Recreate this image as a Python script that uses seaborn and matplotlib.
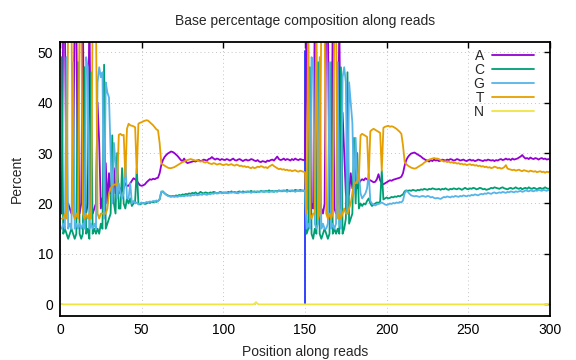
import numpy as np
import pandas as pd
import matplotlib
matplotlib.use("Agg")
from matplotlib import pyplot as plt
import seaborn as sns

# base composition (%) per position, read 1 = pos 1-150, read 2 = pos 151-300
A_read1 = [18, 58, 56, 19, 20, 19, 18, 20, 59, 57,
           19, 18, 20, 58, 19, 18, 20, 60, 19, 18,
           19, 20, 40, 32, 19, 21, 22, 28, 20, 26,
           22, 23, 27, 22, 23, 22, 23, 22.5, 23, 24,
           23.5, 23.5, 24, 24.5, 25, 24.8, 24.5, 24, 23.6, 23.5,
           23.6, 23.8, 24.2, 24.5, 24.8, 24.7, 24.9, 24.8, 25, 25.1,
           26, 27.6, 28.6, 29.2, 29.6, 29.9, 30.1, 30.3, 30.2, 30.0,
           29.7, 29.4, 29.0, 28.6, 28.4, 28.9, 28.3, 28.0, 28.1, 28.2,
           28.3, 28.4, 28.3, 28.5, 28.6, 28.4, 28.5, 28.7, 28.6, 28.5,
           28.8, 28.9, 29.2, 28.9, 28.7, 28.9, 28.8, 28.6, 28.8, 28.7,
           28.6, 28.8, 28.7, 28.5, 28.7, 28.9, 28.6, 28.5, 28.7, 28.8,
           28.6, 28.4, 28.6, 28.7, 28.5, 28.6, 28.8, 28.7, 28.5, 28.4,
           28.6, 28.3, 28.2, 28.4, 28.3, 28.2, 28.5, 28.4, 28.6, 28.7,
           28.5, 28.9, 29.3, 28.8, 28.6, 28.7, 28.9, 28.6, 28.8, 28.7,
           28.5, 28.8, 28.6, 28.9, 28.7, 28.6, 28.8, 28.7, 28.6, 28.7]
A_read2 = [60, 19, 18, 20, 19, 58, 19, 18, 20, 19,
           18, 20, 59, 57, 19, 18, 58, 19, 18, 20,
           57, 19, 38, 30, 22, 21, 22, 26, 23, 24,
           25, 23, 24, 24.5, 24.8, 24.6, 25, 24.8, 24.5, 24.6,
           24.4, 24.2, 24.3, 24.8, 25.8, 24.6, 24.0, 23.8, 24.0, 24.2,
           24.4, 24.6, 24.5, 24.7, 24.8, 24.9, 25.0, 25.1, 25.3, 26.0,
           27.5, 28.6, 29.2, 29.6, 29.9, 30.0, 30.1, 29.9, 29.7, 29.5,
           29.3, 29.0, 28.8, 28.6, 28.5, 28.3, 28.6, 28.4, 28.7, 28.5,
           28.6, 28.4, 28.5, 28.7, 28.6, 28.5, 28.7, 28.6, 28.8, 28.7,
           28.5, 28.6, 28.8, 28.7, 28.5, 28.6, 28.7, 28.5, 28.4, 28.6,
           28.7, 28.5, 28.6, 28.4, 28.5, 28.7, 28.6, 28.5, 28.4, 28.6,
           28.5, 28.7, 28.6, 28.5, 28.6, 28.4, 28.6, 28.5, 28.7, 28.8,
           28.6, 28.7, 28.9, 28.7, 28.8, 28.6, 28.9, 28.7, 28.8, 28.9,
           29.1, 29.3, 29.6, 29.2, 28.9, 29.0, 28.8, 29.1, 28.9, 28.8,
           29.0, 28.9, 28.7, 28.9, 29.0, 28.8, 28.9, 28.7, 28.8, 28.7]

C_read1 = [49, 14, 15, 14, 13, 14, 15, 14, 13, 14,
           48, 14, 13, 14, 47, 14, 15, 13, 46, 14,
           15, 14, 15, 14, 16, 15, 47.5, 15, 16, 17,
           18, 33.5, 20, 18, 30, 19, 19, 27, 20, 19,
           21, 20, 21, 19.5, 20, 20.5, 27, 20, 19.8, 20,
           20.1, 19.9, 20, 20.2, 20.1, 20.3, 20.2, 20.4, 20.3, 20.5,
           20.8, 22.2, 22.4, 22.0, 21.8, 21.6, 21.5, 21.4, 21.5, 21.4,
           21.6, 21.5, 21.7, 21.6, 21.8, 21.7, 21.9, 21.8, 22.0, 21.9,
           22.1, 22.0, 22.2, 21.9, 22.0, 22.3, 22.1, 22.0, 22.2, 22.1,
           22.0, 22.2, 22.1, 22.3, 22.2, 22.0, 22.1, 22.3, 22.2, 22.1,
           22.2, 22.1, 22.3, 22.2, 22.4, 22.2, 22.3, 22.1, 22.3, 22.4,
           22.2, 22.4, 22.3, 22.2, 22.4, 22.3, 22.5, 22.3, 22.4, 22.2,
           22.4, 22.3, 22.5, 22.4, 22.3, 22.5, 22.4, 22.6, 22.4, 22.5,
           22.3, 22.5, 22.4, 22.6, 22.5, 22.4, 22.6, 22.5, 22.7, 22.5,
           22.4, 22.6, 22.5, 22.7, 22.6, 22.5, 22.7, 22.6, 22.5, 22.6]
C_read2 = [14, 15, 47, 14, 13, 15, 14, 48, 14, 13,
           14, 15, 14, 13, 14, 48, 14, 15, 14, 15,
           14, 47, 14, 15, 17, 46, 16, 17, 18, 33,
           20, 30, 19, 20, 19.5, 20, 19.8, 20.5, 21, 20,
           19.5, 19.8, 20.0, 20.2, 20.1, 20.4, 26.5, 20.8, 21.0, 21.2,
           21.0, 21.1, 21.3, 21.2, 21.4, 21.3, 21.5, 21.4, 21.6, 21.8,
           22.4, 22.6, 22.5, 22.6, 22.5, 22.7, 22.6, 22.5, 22.7, 22.6,
           22.8, 22.7, 22.9, 22.8, 22.7, 22.9, 22.8, 23.0, 22.9, 22.8,
           22.8, 22.9, 22.7, 22.9, 22.8, 23.0, 22.8, 22.7, 22.9, 22.8,
           23.0, 22.9, 22.8, 23.0, 22.9, 22.7, 22.9, 23.1, 22.9, 22.8,
           23.0, 22.9, 23.1, 23.0, 22.8, 22.9, 23.1, 23.0, 22.8, 22.9,
           22.7, 22.8, 22.9, 23.1, 23.0, 23.2, 23.1, 23.0, 22.9, 23.1,
           23.2, 23.0, 22.9, 22.8, 23.0, 23.1, 22.9, 23.0, 23.2, 23.0,
           22.9, 23.1, 22.8, 23.0, 23.1, 22.9, 23.2, 23.0, 22.9, 23.1,
           23.0, 22.8, 23.0, 23.1, 22.9, 23.0, 23.2, 23.0, 22.9, 23.0]

G_read1 = [15, 16, 15, 49, 15, 16, 15, 48, 15, 16,
           15, 16, 15, 16, 15, 49, 47, 15, 16, 15,
           16, 15, 44, 47, 45, 46, 17, 44, 42, 41,
           30, 20, 32, 28, 21, 24, 22, 21, 22, 29,
           21, 21, 24, 20, 20.5, 20, 20.2, 19.8, 20, 20.2,
           20, 20.1, 20.3, 20.2, 20.4, 20.3, 20.5, 20.4, 20.6, 20.4,
           20.9, 22.4, 22.3, 22.1, 21.7, 21.5, 21.4, 21.3, 21.4, 21.3,
           21.4, 21.3, 21.5, 21.4, 21.5, 21.4, 21.6, 21.5, 21.6, 21.5,
           21.7, 21.6, 21.8, 21.6, 21.7, 21.8, 21.7, 21.9, 21.8, 21.7,
           21.9, 21.8, 22.0, 21.9, 22.1, 22.0, 22.0, 22.2, 22.0, 22.1,
           22.1, 22.2, 22.0, 22.2, 22.1, 22.3, 22.1, 22.2, 22.0, 22.2,
           22.3, 22.1, 22.2, 22.4, 22.2, 22.3, 22.1, 22.3, 22.2, 22.4,
           22.3, 22.2, 22.4, 22.3, 22.5, 22.3, 22.4, 22.2, 22.4, 22.3,
           22.5, 22.4, 22.3, 22.5, 22.4, 22.6, 22.4, 22.5, 22.3, 22.5,
           22.6, 22.4, 22.5, 22.3, 22.5, 22.6, 22.4, 22.5, 22.6, 22.5]
G_read2 = [15, 16, 15, 49, 48, 16, 15, 16, 49, 15,
           16, 15, 15, 16, 48, 15, 16, 15, 16, 48,
           16, 15, 45, 47, 44, 18, 44, 40, 36, 22,
           33, 24, 26, 22, 21, 21.5, 22, 23, 26, 20.5,
           20, 19.8, 19.6, 19.8, 19.9, 20.0, 20.2, 20.0, 19.8, 19.7,
           19.8, 20.0, 19.9, 20.1, 20.0, 20.2, 20.1, 20.3, 20.2, 20.6,
           22.0, 22.5, 22.3, 21.9, 21.6, 21.5, 21.4, 21.5, 21.4, 21.3,
           21.4, 21.5, 21.4, 21.3, 21.5, 21.4, 21.2, 21.3, 21.1, 21.0,
           21.1, 21.0, 20.9, 21.1, 21.3, 21.2, 21.4, 21.3, 21.2, 21.4,
           21.3, 21.5, 21.4, 21.3, 21.5, 21.4, 21.6, 21.5, 21.4, 21.6,
           21.5, 21.7, 21.6, 21.8, 21.7, 21.6, 21.8, 21.9, 21.8, 22.0,
           21.9, 22.1, 22.0, 21.9, 22.1, 22.2, 22.0, 22.1, 22.2, 22.1,
           22.3, 22.2, 22.1, 22.3, 22.2, 22.4, 22.3, 22.2, 22.4, 22.3,
           22.4, 22.5, 22.3, 22.4, 22.6, 22.5, 22.4, 22.6, 22.5, 22.4,
           22.6, 22.5, 22.7, 22.6, 22.5, 22.7, 22.6, 22.5, 22.7, 22.6]

T_read1 = [17, 17, 18, 17, 57, 60, 58, 18, 17, 18,
           17, 58, 59, 18, 17, 18, 17, 18, 17, 59,
           57, 58, 18, 17, 18, 18, 18, 18, 19, 22,
           23, 23.5, 23.7, 23.8, 23.5, 33.6, 33.8, 33.5, 33.6, 25.3,
           34.8, 35.8, 35.5, 35.4, 35.3, 35.1, 26, 35.8, 36, 36.1,
           36.3, 36.4, 36.5, 36.4, 36.1, 35.8, 35.5, 35.1, 34.7, 34.5,
           32, 28, 27.7, 27.5, 27.3, 27.1, 27.0, 27.0, 27.1, 27.2,
           27.4, 27.6, 27.8, 28.0, 28.2, 28.3, 28.5, 28.6, 28.7, 28.8,
           28.7, 28.6, 28.5, 28.6, 28.4, 28.3, 28.4, 28.2, 28.1, 28.3,
           28.0, 27.9, 27.8, 28.0, 27.9, 27.7, 27.8, 27.9, 27.7, 27.6,
           27.7, 27.8, 27.6, 27.7, 27.8, 27.6, 27.5, 27.7, 27.6, 27.4,
           27.5, 27.3, 27.4, 27.2, 27.3, 27.1, 27.0, 27.2, 27.0, 27.1,
           27.3, 27.2, 27.4, 27.3, 27.1, 27.2, 27.0, 27.3, 27.5, 27.7,
           27.4, 27.2, 27.0, 26.8, 26.9, 26.7, 26.8, 26.6, 26.7, 26.5,
           26.6, 26.4, 26.5, 26.6, 26.4, 26.3, 26.5, 26.4, 26.3, 26.2]
T_read2 = [18, 58, 18, 17, 18, 18, 57, 17, 18, 58,
           59, 57, 18, 17, 18, 17, 18, 58, 59, 17,
           18, 17, 18, 19, 18, 18, 19, 20, 22, 24,
           24, 24.5, 25, 33.5, 33.8, 33.6, 33.4, 33.2, 25, 34.3,
           34.6, 34.8, 34.6, 34.4, 34.2, 34.0, 26.5, 35.0, 35.2, 35.3,
           35.4, 35.2, 35.3, 35.2, 35.0, 34.8, 34.5, 34.2, 33.8, 31.5,
           28.3, 27.8, 27.5, 27.3, 27.1, 27.0, 26.9, 27.0, 27.2, 27.4,
           27.6, 27.8, 28.1, 28.3, 28.5, 28.7, 28.8, 28.9, 29.0, 28.9,
           28.9, 28.8, 28.6, 28.5, 28.3, 28.4, 28.2, 28.3, 28.1, 28.2,
           28.0, 28.1, 27.9, 28.0, 27.8, 27.9, 27.7, 27.8, 27.6, 27.7,
           27.8, 27.6, 27.7, 27.5, 27.6, 27.4, 27.5, 27.3, 27.4, 27.2,
           27.3, 27.1, 27.2, 27.0, 27.1, 27.3, 27.2, 27.0, 27.1, 26.9,
           27.0, 27.2, 27.6, 26.9, 26.8, 26.7, 26.6, 26.7, 26.5, 26.6,
           26.7, 26.5, 26.4, 26.6, 26.5, 26.4, 26.3, 26.5, 26.4, 26.3,
           26.4, 26.2, 26.3, 26.4, 26.2, 26.3, 26.1, 26.3, 26.2, 26.3]

N_read1 = [0.1, 0, 0, 0, 0, 0, 0, 0, 0, 0, 0, 0, 0, 0, 0, 0, 0, 0, 0, 0, 0, 0, 0, 0, 0,
           0, 0, 0, 0, 0, 0, 0, 0, 0, 0, 0, 0, 0, 0, 0, 0, 0, 0, 0, 0, 0, 0, 0, 0, 0,
           0, 0, 0, 0, 0, 0, 0, 0, 0, 0, 0, 0, 0, 0, 0, 0, 0, 0, 0, 0, 0, 0, 0, 0, 0,
           0, 0, 0, 0, 0, 0, 0, 0, 0, 0, 0, 0, 0, 0, 0, 0, 0, 0, 0, 0, 0, 0, 0, 0, 0,
           0, 0, 0, 0, 0, 0, 0, 0, 0, 0, 0, 0, 0, 0, 0, 0, 0, 0, 0.1, 0.45, 0.1, 0, 0, 0, 0,
           0, 0, 0, 0, 0, 0, 0, 0, 0, 0, 0, 0, 0, 0, 0, 0, 0, 0, 0, 0, 0, 0, 0, 0, 0]
N_read2 = [0, 0, 0, 0, 0, 0, 0, 0, 0, 0, 0, 0, 0, 0, 0, 0, 0, 0, 0, 0, 0, 0, 0, 0, 0,
           0, 0, 0, 0, 0, 0, 0, 0, 0, 0, 0, 0, 0, 0, 0, 0, 0, 0, 0, 0, 0, 0, 0, 0, 0,
           0, 0, 0, 0, 0, 0, 0, 0, 0, 0, 0, 0, 0, 0, 0, 0, 0, 0, 0, 0, 0, 0, 0, 0, 0,
           0, 0, 0, 0, 0, 0, 0, 0, 0, 0, 0, 0, 0, 0, 0, 0, 0, 0, 0, 0, 0, 0, 0, 0, 0,
           0, 0, 0, 0, 0, 0, 0, 0, 0, 0, 0, 0, 0, 0, 0, 0, 0, 0, 0, 0, 0, 0, 0, 0, 0,
           0, 0, 0, 0, 0, 0, 0, 0, 0, 0, 0, 0, 0, 0, 0, 0, 0, 0, 0, 0, 0, 0, 0, 0.1, 0.3]

# read boundary marker
boundary_x = [150, 150]
boundary_y = [0, 50.3]

bases = ["A", "C", "G", "T", "N"]
colors = {"A": "#9400d3", "C": "#009e73", "G": "#56b4e9",
          "T": "#e69f00", "N": "#f0e442"}
series = {"A": A_read1 + A_read2, "C": C_read1 + C_read2,
          "G": G_read1 + G_read2, "T": T_read1 + T_read2,
          "N": N_read1 + N_read2}

frames = []
for b in bases:
    vals = series[b]
    frames.append(pd.DataFrame({"pos": np.arange(1, len(vals) + 1),
                                "pct": vals, "base": b}))
df = pd.concat(frames, ignore_index=True)

sns.set_style("white")
plt.rcParams["font.family"] = ["Liberation Sans", "DejaVu Sans"]

fig = plt.figure(figsize=(5.76, 3.6), dpi=100)
ax = fig.add_axes([60 / 576, 44 / 360, 490 / 576, 274 / 360])

ax.plot(boundary_x, boundary_y, color="#2233ff", lw=1.3, zorder=1.5)
sns.lineplot(data=df, x="pos", y="pct", hue="base", hue_order=bases,
             palette=colors, estimator=None, lw=1.3, ax=ax)

ax.set_xlim(0, 300)
ax.set_ylim(-2.3, 52)
ax.set_xticks(range(0, 301, 50))
ax.set_yticks(range(0, 51, 10))
ax.grid(True, color="#c4c4c4", ls=(0, (1, 3)), lw=0.7)
ax.set_axisbelow(True)
ax.tick_params(direction="in", top=True, right=True, length=4, width=1,
               labelsize=10, colors="black", pad=5)
for sp in ax.spines.values():
    sp.set_color("black")
    sp.set_linewidth(1.3)

ax.set_xlabel("Position along reads", fontsize=10, labelpad=6)
ax.set_ylabel("Percent", fontsize=10, labelpad=10)
ax.set_title("Base percentage composition along reads", fontsize=10, pad=12)

handles, labels = ax.get_legend_handles_labels()
ax.legend(handles, labels, loc="upper right", bbox_to_anchor=(0.967, 0.975),
          frameon=False, markerfirst=False, handlelength=3.0,
          handletextpad=0.6, labelspacing=0.0, borderpad=0, borderaxespad=0,
          fontsize=10)

fig.savefig("out.png", dpi=100)
